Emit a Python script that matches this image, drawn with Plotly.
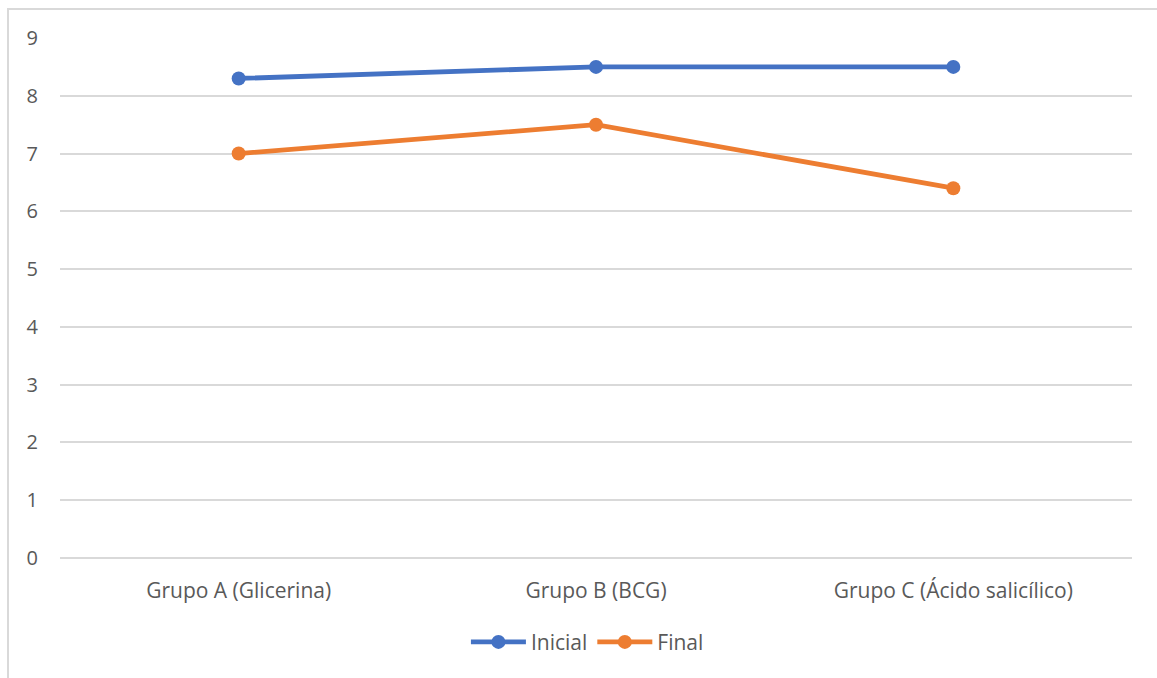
import plotly.graph_objects as go

categorias = ["Grupo A (Glicerina)", "Grupo B (BCG)", "Grupo C (Ácido salicílico)"]
inicial = [8.3, 8.5, 8.5]
final = [7.0, 7.5, 6.4]
y_ticks = [0, 1, 2, 3, 4, 5, 6, 7, 8, 9]

FONT = "Open Sans"
TXT = "#595959"
GRID = "#d9d9d9"

fig = go.Figure()
fig.add_trace(go.Scatter(
    x=categorias, y=inicial, name="Inicial", mode="lines+markers",
    line=dict(color="#4472C4", width=4.8),
    marker=dict(color="#4472C4", size=14),
))
fig.add_trace(go.Scatter(
    x=categorias, y=final, name="Final", mode="lines+markers",
    line=dict(color="#ED7D31", width=4.8),
    marker=dict(color="#ED7D31", size=14),
))

fig.update_layout(
    width=1157, height=678,
    margin=dict(l=60, r=25, t=38, b=120, autoexpand=False),
    paper_bgcolor="white", plot_bgcolor="white",
    font=dict(family=FONT, size=20, color=TXT),
    showlegend=True,
    legend=dict(
        orientation="h", x=0.492, xanchor="center", y=-0.162, yanchor="middle",
        font=dict(family=FONT, size=21, color=TXT),
        itemwidth=55, traceorder="normal",
    ),
    xaxis=dict(
        range=[-0.5, 2.5], automargin=False,
        showgrid=False, zeroline=False, showline=False, ticks="",
        tickfont=dict(family=FONT, size=21, color=TXT),
        ticklabelstandoff=18,
    ),
    yaxis=dict(
        range=[-0.0005, 9.0005], tickvals=y_ticks, automargin=False,
        showgrid=True, gridcolor=GRID, gridwidth=1.5,
        zeroline=True, zerolinecolor=GRID, zerolinewidth=1.5,
        showline=False, ticks="",
        ticklabelstandoff=21,
    ),
    shapes=[dict(
        type="rect", xref="paper", yref="paper",
        x0=-0.0485, x1=1.2, y0=-0.5, y1=1.0558,
        line=dict(color=GRID, width=2), fillcolor="rgba(0,0,0,0)",
        layer="below",
    )],
)

fig.write_html("out.html")
